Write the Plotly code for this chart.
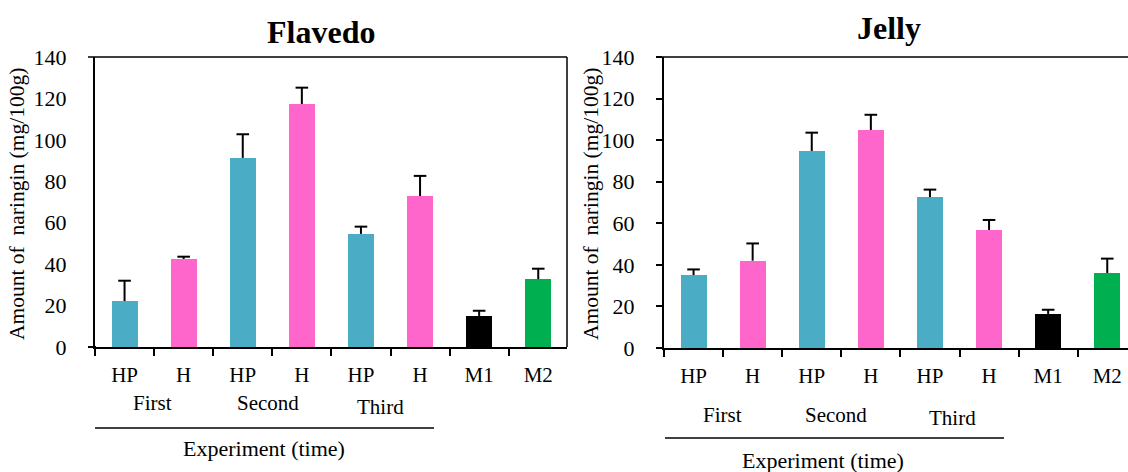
import plotly.graph_objects as go

W, H = 1128, 472

categories = ["HP", "H", "HP", "H", "HP", "H", "M1", "M2"]
groups = ["First", "Second", "Third"]
colors = ["#4BACC6", "#FF66CC", "#4BACC6", "#FF66CC", "#4BACC6", "#FF66CC", "#000000", "#00B050"]

flavedo_mean = [22.2, 42.5, 91.3, 117.3, 54.6, 72.9, 15.0, 32.8]
flavedo_err = [9.8, 1.1, 11.4, 7.9, 3.5, 9.7, 2.5, 5.0]
jelly_mean = [35.1, 42.0, 94.8, 104.9, 72.6, 56.8, 16.4, 36.1]
jelly_err = [2.7, 8.3, 8.8, 7.3, 3.6, 4.8, 2.0, 6.9]

yticks = [0, 20, 40, 60, 80, 100, 120, 140]
FONT = "Liberation Serif"

def px(x):
    return x / W

def py(y):
    return 1 - y / H

xpos = list(range(len(categories)))

fig = go.Figure()
for vals, errs, xa, ya in [(flavedo_mean, flavedo_err, "x", "y"), (jelly_mean, jelly_err, "x2", "y2")]:
    fig.add_trace(go.Bar(
        x=xpos, y=vals, xaxis=xa, yaxis=ya, width=0.44,
        marker=dict(color=colors, line=dict(width=0)),
        showlegend=False, hoverinfo="y",
    ))
    # upper-only error bars: stems and caps derived from the data arrays
    sx, sy = [], []
    for xi, v, e in zip(xpos, vals, errs):
        sx += [xi, xi, None]
        sy += [v, v + e, None]
    fig.add_trace(go.Scatter(
        x=sx, y=sy, xaxis=xa, yaxis=ya, mode="lines",
        line=dict(color="black", width=2), showlegend=False, hoverinfo="skip",
    ))
    fig.add_trace(go.Scatter(
        x=xpos, y=[v + e for v, e in zip(vals, errs)], xaxis=xa, yaxis=ya, mode="markers",
        marker=dict(symbol="line-ew", size=9, line=dict(color="black", width=2)),
        showlegend=False, hoverinfo="skip",
    ))

cw = 59.1
xcommon = dict(
    tickmode="array", tickvals=xpos, ticktext=categories, ticks="",
    showline=True, linecolor="black", linewidth=2, showgrid=False, zeroline=False,
    tickfont=dict(family=FONT, size=21, color="black"), ticklabelstandoff=8,
    minor=dict(tickvals=[i - 0.5 for i in range(9)], ticks="outside", ticklen=7,
               tickwidth=2, tickcolor="black", showgrid=False),
    fixedrange=True, automargin=False,
)
ycommon = dict(
    range=[0, 140], tickmode="array", tickvals=yticks, showline=True, linecolor="black",
    linewidth=2, showgrid=False, zeroline=False,
    tickfont=dict(family=FONT, size=22, color="black"), fixedrange=True, automargin=False,
)

fig.update_layout(
    width=W, height=H, autosize=False,
    margin=dict(l=0, r=0, t=0, b=0, pad=0, autoexpand=False),
    paper_bgcolor="white", plot_bgcolor="white",
    font=dict(family=FONT, color="black"),
    bargap=0,
    xaxis=dict(domain=[px(95), px(567)], range=[-0.5, -0.5 + 472 / cw], anchor="y", **xcommon),
    yaxis=dict(domain=[py(347), py(57)], anchor="x", ticks="", ticklabelstandoff=22, **ycommon),
    xaxis2=dict(domain=[px(664), 1], range=[-0.5, -0.5 + 464 / cw], anchor="y2", **xcommon),
    yaxis2=dict(domain=[py(348), py(57)], anchor="x2", ticks="outside", ticklen=6, tickwidth=1.5,
                tickcolor="black", ticklabelstandoff=17, **ycommon),
)

ann = []
# Titles
ann.append(dict(text="<b>Flavedo</b>", x=px(321), y=py(32), xref="paper", yref="paper",
                showarrow=False, font=dict(family=FONT, size=32, color="black"),
                xanchor="center", yanchor="middle"))
ann.append(dict(text="<b>Jelly</b>", x=px(889), y=py(28), xref="paper", yref="paper",
                showarrow=False, font=dict(family=FONT, size=32, color="black"),
                xanchor="center", yanchor="middle"))
# Y titles
for xx in (17, 591):
    ann.append(dict(text="Amount of&nbsp; naringin (mg/100g)", x=px(xx), y=py(204),
                    xref="paper", yref="paper", textangle=-90, showarrow=False,
                    font=dict(family=FONT, size=21.5, color="black"),
                    xanchor="center", yanchor="middle"))
# Group labels
left_groups = [(152, 403), (268, 403), (381, 407)]
right_groups = [(722, 415), (836, 415), (952, 418)]
for g, (gx, gy) in zip(groups, left_groups):
    ann.append(dict(text=g, x=px(gx), y=py(gy), xref="paper", yref="paper", showarrow=False,
                    font=dict(family=FONT, size=21, color="black"), xanchor="center", yanchor="middle"))
for g, (gx, gy) in zip(groups, right_groups):
    ann.append(dict(text=g, x=px(gx), y=py(gy), xref="paper", yref="paper", showarrow=False,
                    font=dict(family=FONT, size=21, color="black"), xanchor="center", yanchor="middle"))
# Experiment labels
ann.append(dict(text="Experiment (time)", x=px(264), y=py(448), xref="paper", yref="paper",
                showarrow=False, font=dict(family=FONT, size=22, color="black"),
                xanchor="center", yanchor="middle"))
ann.append(dict(text="Experiment (time)", x=px(823), y=py(460), xref="paper", yref="paper",
                showarrow=False, font=dict(family=FONT, size=22, color="black"),
                xanchor="center", yanchor="middle"))
fig.update_layout(annotations=ann)

shapes = []
line = dict(color="black", width=1.5)
# Left frame: top & right, extended top/bottom to the left
shapes.append(dict(type="line", xref="paper", yref="paper", x0=px(88), x1=px(567), y0=py(57), y1=py(57), line=line))
shapes.append(dict(type="line", xref="paper", yref="paper", x0=px(567), x1=px(567), y0=py(57), y1=py(347), line=line))
shapes.append(dict(type="line", xref="paper", yref="paper", x0=px(88), x1=px(96), y0=py(347), y1=py(347), line=dict(color="black", width=2)))
# Right frame top
shapes.append(dict(type="line", xref="paper", yref="paper", x0=px(658), x1=1, y0=py(57), y1=py(57), line=line))
# Group underlines
shapes.append(dict(type="line", xref="paper", yref="paper", x0=px(95), x1=px(434), y0=py(428), y1=py(428), line=line))
shapes.append(dict(type="line", xref="paper", yref="paper", x0=px(665), x1=px(1004), y0=py(438), y1=py(438), line=line))
fig.update_layout(shapes=shapes)

fig.write_html("out.html")
